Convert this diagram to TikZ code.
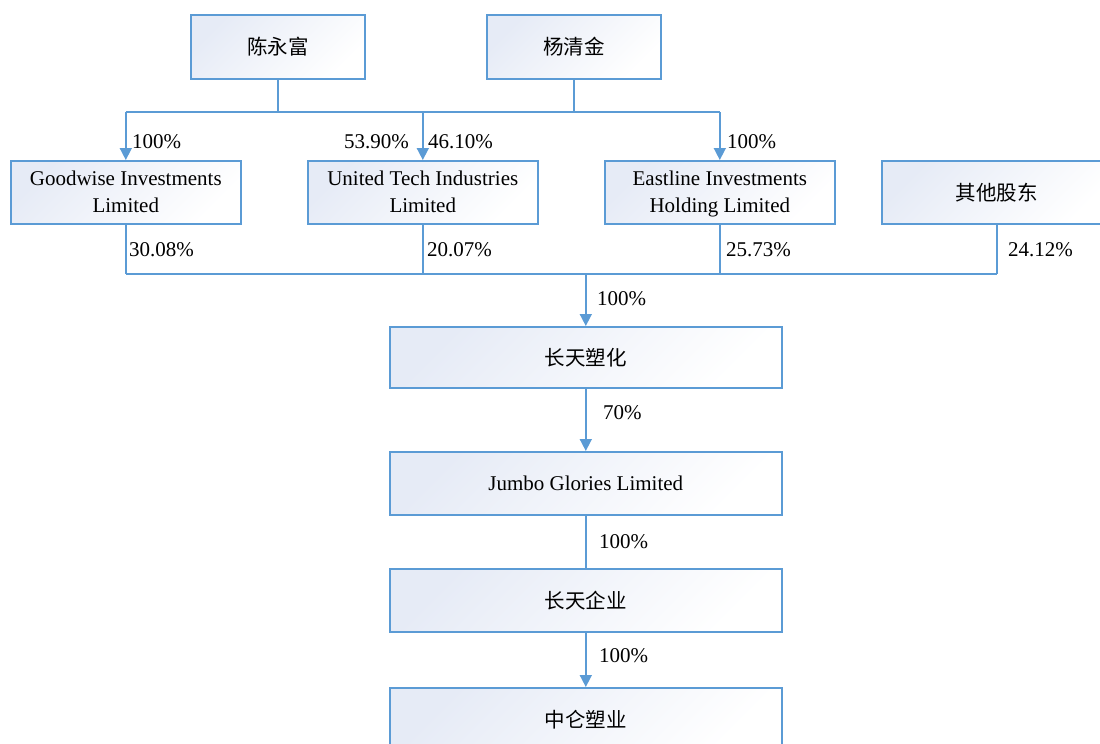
\documentclass[tikz,border=0pt]{standalone}
\usepackage{fontspec}
\setmainfont{Liberation Serif}
\newfontfamily\cjk{Noto Sans CJK SC}
\usetikzlibrary{arrows.meta}
\definecolor{bc}{HTML}{5B9BD5}
\definecolor{fc}{HTML}{E6EBF6}
\begin{document}
\begin{tikzpicture}[x=1pt,y=-1pt,
  box/.style={draw=bc, line width=1.6pt, top color=fc, bottom color=white, shading angle=45,
    inner sep=0pt, align=center, font=\fontsize{21}{27}\selectfont, anchor=north west},
  cjkbox/.style={box, font=\cjk\fontsize{20.5}{27}\selectfont},
  ln/.style={draw=bc, line width=1.6pt},
  arr/.style={ln, -{Triangle[width=12pt,length=12pt]}},
  lbl/.style={inner sep=0pt, font=\fontsize{21}{24}\selectfont},
]
\useasboundingbox (0,0) rectangle (1100,744);

% nodes
\node[cjkbox, minimum width=174pt, minimum height=64pt] (chen) at (190,14) {陈永富};
\node[cjkbox, minimum width=174pt, minimum height=64pt] (yang) at (486,14) {杨清金};

\node[box, minimum width=230pt, minimum height=63pt] (good) at (10,160) {Goodwise Investments\\Limited};
\node[box, minimum width=230pt, minimum height=63pt] (united) at (307,160) {United Tech Industries\\Limited};
\node[box, minimum width=230pt, minimum height=63pt] (east) at (604,160) {\strut Eastline Investments\\Holding Limited};
\node[cjkbox, minimum width=230pt, minimum height=63pt] (other) at (881,160) {其他股东};

\node[cjkbox, minimum width=392pt, minimum height=61pt] (cts) at (389,326) {长天塑化};
\node[box, minimum width=392pt, minimum height=63pt] (jumbo) at (389,451) {Jumbo Glories Limited};
\node[cjkbox, minimum width=392pt, minimum height=63pt] (ctqy) at (389,568) {长天企业};
\node[cjkbox, minimum width=392pt, minimum height=63pt] (zl) at (389,687) {中仑塑业};

\coordinate (bus1) at (0,112);
\coordinate (bus2) at (0,274);

% top bus
\draw[ln] (chen.south) -- (chen.south |- bus1);
\draw[ln] (yang.south) -- (yang.south |- bus1);
\draw[ln] (good.north |- bus1) -- (east.north |- bus1);
\draw[arr] (good.north |- bus1) -- (good.north);
\draw[arr] (united.north |- bus1) -- (united.north);
\draw[arr] (east.north |- bus1) -- (east.north);

% bottom bus
\draw[ln] (good.south) -- (good.south |- bus2);
\draw[ln] (united.south) -- (united.south |- bus2);
\draw[ln] (east.south) -- (east.south |- bus2);
\draw[ln] (other.south) -- (other.south |- bus2);
\draw[ln] (good.south |- bus2) -- (other.south |- bus2);
\draw[arr] (cts.north |- bus2) -- (cts.north);

% chain
\draw[arr] (cts.south) -- (jumbo.north);
\draw[ln] (jumbo.south) -- (ctqy.north);
\draw[arr] (ctqy.south) -- (zl.north);

% labels
\node[lbl, anchor=west] (l1) at (132,142) {100\%};
\node[lbl, anchor=east] (l2) at (409,142) {53.90\%};
\node[lbl, anchor=west] (l3) at (428,142) {46.10\%};
\node[lbl, anchor=west] (l4) at (727,142) {100\%};
\node[lbl, anchor=west] (l5) at (129,250) {30.08\%};
\node[lbl, anchor=west] (l6) at (427,250) {20.07\%};
\node[lbl, anchor=west] (l7) at (726,250) {25.73\%};
\node[lbl, anchor=west] (l8) at (1008,250) {24.12\%};
\node[lbl, anchor=west] (l9) at (597,299) {100\%};
\node[lbl, anchor=west] (l10) at (603,413) {70\%};
\node[lbl, anchor=west] (l11) at (599,542) {100\%};
\node[lbl, anchor=west] (l12) at (599,656) {100\%};
\end{tikzpicture}
\end{document}
